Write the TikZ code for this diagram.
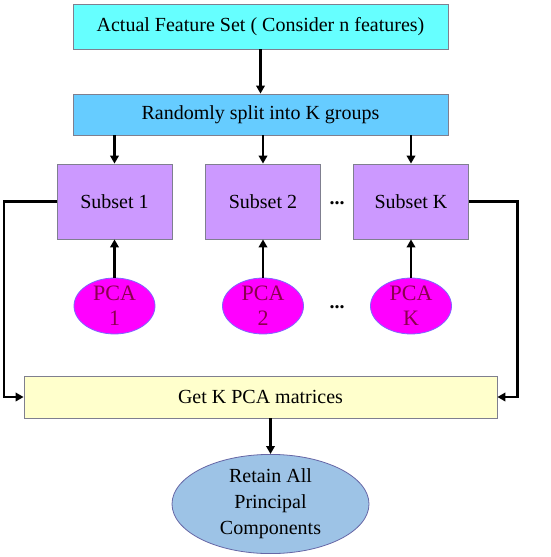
\documentclass[tikz,border=0pt]{standalone}
\usepackage{fontspec}
\setmainfont{Liberation Serif}
\usepackage{xcolor}
\usetikzlibrary{arrows.meta}
\usetikzlibrary{shapes.geometric}

\definecolor{featcyan}{HTML}{66FFFF}
\definecolor{splitblue}{HTML}{66CCFF}
\definecolor{subsetlilac}{HTML}{CC99FF}
\definecolor{pcamagenta}{HTML}{FF00FF}
\definecolor{pcaedge}{HTML}{7F66FF}
\definecolor{pcatext}{HTML}{8B004F}
\definecolor{getkyellow}{HTML}{FFFFCC}
\definecolor{retainblue}{HTML}{9DC3E6}
\definecolor{boxedge}{HTML}{7F7F8F}

\tikzset{
    flowbox/.style={draw=boxedge, line width=0.8pt, inner sep=0pt, align=center},
    pcanode/.style={ellipse, draw=pcaedge, line width=0.8pt, fill=pcamagenta, inner sep=0pt,
        minimum width=81pt, minimum height=54pt, align=center, text=pcatext,
        font=\fontsize{22}{25}\selectfont},
    flowarrow/.style={line width=2.2pt, -{Triangle[length=8pt, width=8.5pt]}}
}

\begin{document}
\begin{tikzpicture}[x=1pt, y=-1pt, font=\fontsize{20}{26}\selectfont]
    \useasboundingbox (0, 0) rectangle (550, 557);
    \node[flowbox, fill=featcyan, minimum width=375pt, minimum height=45pt] (feat) at (260.5, 26.5) {Actual Feature Set ( Consider n features)};
    \node[flowbox, fill=splitblue, minimum width=375pt, minimum height=41pt] (split) at (260.5, 114.5) {Randomly split into K groups};
    \node[flowbox, fill=subsetlilac, minimum width=115pt, minimum height=75pt] (sub1) at (114.5, 201.5) {Subset 1};
    \node[flowbox, fill=subsetlilac, minimum width=115pt, minimum height=75pt] (sub2) at (263, 201.5) {Subset 2};
    \node[flowbox, fill=subsetlilac, minimum width=115pt, minimum height=75pt] (subk) at (411, 201.5) {Subset K};
    \node (dotsa) at (337, 203) {\textbf{...}};
    \node[pcanode] (pca1) at (114.5, 306) {PCA\\1};
    \node[pcanode] (pca2) at (263, 306) {PCA\\2};
    \node[pcanode] (pcak) at (411, 306) {PCA\\K};
    \node (dotsb) at (337, 307) {\textbf{...}};
    \node[flowbox, fill=getkyellow, minimum width=473pt, minimum height=42pt] (getk) at (260.5, 397) {Get K PCA matrices};
    \node[ellipse, draw=boxedge!80!blue, line width=0.8pt, fill=retainblue, inner sep=0pt,
        minimum width=197pt, minimum height=98pt, align=center] (retain) at (270.5, 504)
        {Retain All\\Principal\\Components};

    \draw[flowarrow] (feat) -- (split);
    \draw[flowarrow] (sub1.north |- split.south) -- (sub1.north);
    \draw[flowarrow] (sub2.north |- split.south) -- (sub2.north);
    \draw[flowarrow] (subk.north |- split.south) -- (subk.north);
    \draw[flowarrow] (pca1) -- (sub1);
    \draw[flowarrow] (pca2) -- (sub2);
    \draw[flowarrow] (pcak) -- (subk);
    \draw[flowarrow] (sub1.west) -- ++(-53, 0) |- (getk.west);
    \draw[flowarrow] (subk.east) -- ++(48.5, 0) |- (getk.east);
    \draw[flowarrow] (retain.north |- getk.south) -- (retain.north);
\end{tikzpicture}
\end{document}
